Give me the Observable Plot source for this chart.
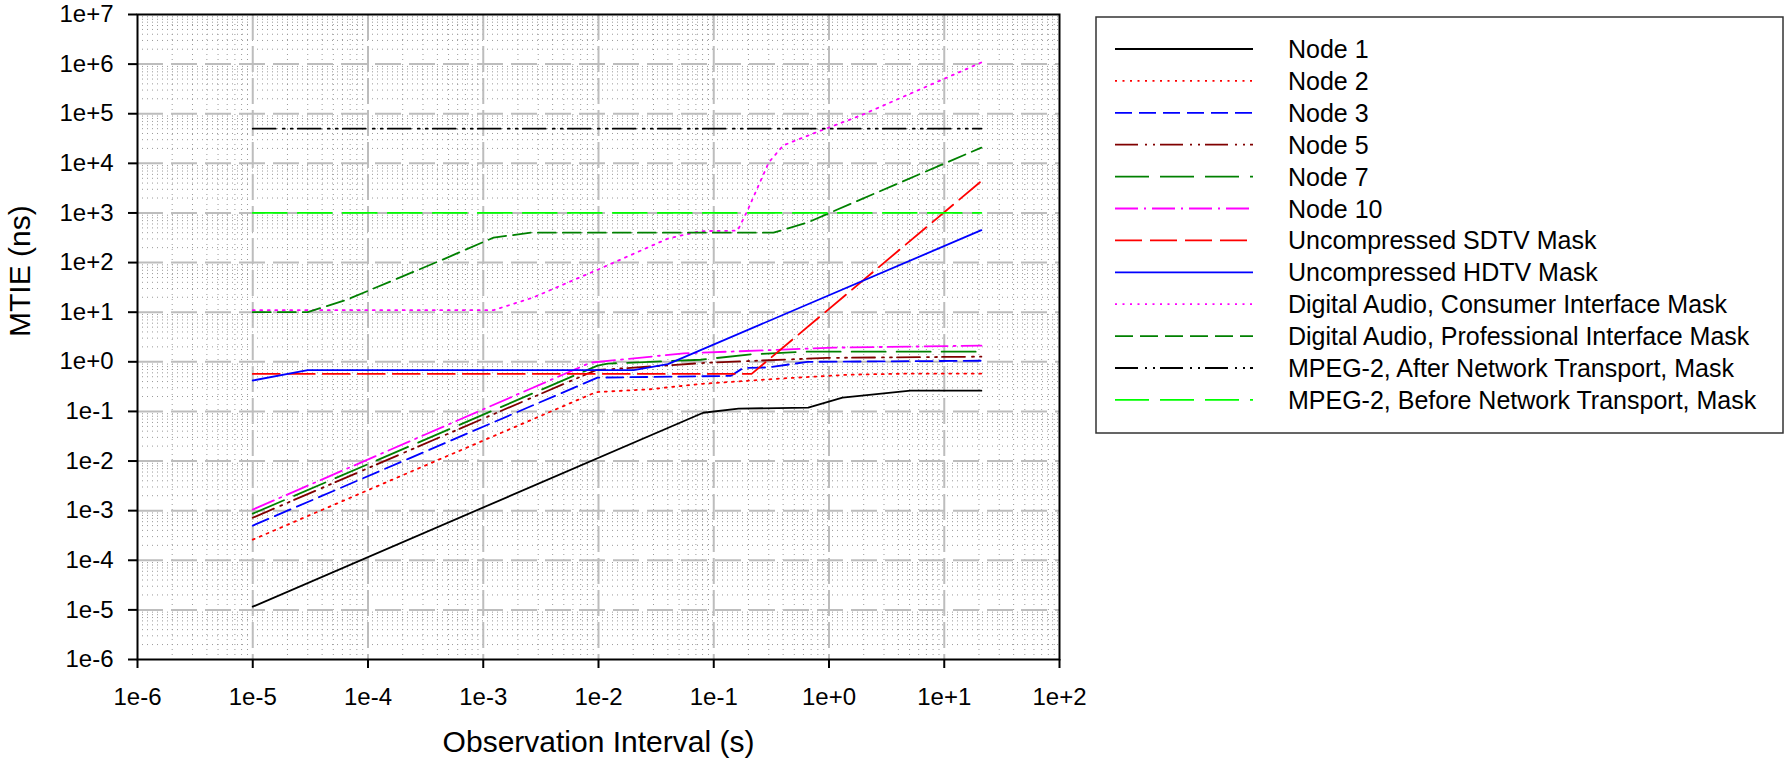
<!DOCTYPE html>
<html>
<head>
<meta charset="utf-8">
<script src="https://cdn.jsdelivr.net/npm/d3@7"></script>
<script src="https://cdn.jsdelivr.net/npm/@observablehq/plot@0.6"></script>
<style>
  html, body { margin: 0; padding: 0; background: #fff; }
  #wrap { position: relative; width: 1785px; height: 768px; overflow: hidden; font-family: 'Liberation Sans', Arial, sans-serif; }
  #chart { position: absolute; left: 0; top: 0; }
  #legend { position: absolute; left: 1095px; top: 16px; }
</style>
</head>
<body>
<div id="wrap"><div id="chart"></div><svg id="legend" width="690" height="420"></svg></div>
<script>
// ---- Axis ticks ----
const xTicks = [1e-6, 1e-5, 1e-4, 1e-3, 1e-2, 1e-1, 1e0, 1e1, 1e2];
const xTickLabels = ["1e-6", "1e-5", "1e-4", "1e-3", "1e-2", "1e-1", "1e+0", "1e+1", "1e+2"];
const yTicks = [1e-6, 1e-5, 1e-4, 1e-3, 1e-2, 1e-1, 1e0, 1e1, 1e2, 1e3, 1e4, 1e5, 1e6, 1e7];
const yTickLabels = ["1e-6", "1e-5", "1e-4", "1e-3", "1e-2", "1e-1", "1e+0", "1e+1", "1e+2", "1e+3", "1e+4", "1e+5", "1e+6", "1e+7"];

// ---- Series: [observation interval (s), MTIE (ns)] ----
const node1 = [[1e-5, 1.16e-5], [0.081, 0.094], [0.164, 0.114], [0.66, 0.119], [1.31, 0.19], [5.1, 0.262], [21, 0.262]];
const node2 = [[1e-5, 2.6e-4], [0.0095, 0.245], [0.028, 0.28], [0.08, 0.36], [0.38, 0.46], [1.5, 0.55], [5, 0.58], [21, 0.58]];
const node3 = [[1e-5, 5e-4], [0.0098, 0.48], [0.14, 0.52], [0.18, 0.75], [0.3, 0.77], [0.65, 1.0], [21, 1.05]];
const node5 = [[1e-5, 7.2e-4], [0.0095, 0.68], [0.088, 0.96], [0.97, 1.2], [21, 1.27]];
const node7 = [[1e-5, 8.7e-4], [0.0098, 0.84], [0.012, 0.92], [0.028, 1.0], [0.077, 1.1], [0.2, 1.4], [0.6, 1.6], [21, 1.6]];
const node10 = [[1e-5, 1.05e-3], [0.0085, 0.96], [0.055, 1.48], [1.1, 1.93], [21, 2.12]];
const sdtvMask = [[1e-5, 0.57], [0.213, 0.57], [21, 4400]];
const hdtvMask = [[1e-5, 0.42], [3e-5, 0.68], [0.0202, 0.68], [0.04, 0.9], [21, 450]];
const consumerMask = [[1e-5, 11], [1.23e-3, 11], [2.7e-3, 19.7], [0.0104, 76], [0.04, 305], [0.077, 430], [0.161, 440], [0.196, 1117], [0.3, 10400], [0.4, 22900], [0.73, 40000], [1.88, 92000], [5.86, 294000], [21, 1.08e6]];
const professionalMask = [[1e-5, 10], [3e-5, 10], [6.6e-5, 18], [4.26e-4, 110], [1.23e-3, 319], [2.6e-3, 400], [0.33, 400], [0.65, 640], [1.03, 1020], [21, 20800]];
const mpegAfterMask = [[1e-5, 5e4], [21, 5e4]];
const mpegBeforeMask = [[1e-5, 1000], [21, 1000]];

// ---- Legend names ----
const seriesNames = [
  "Node 1", "Node 2", "Node 3", "Node 5", "Node 7", "Node 10",
  "Uncompressed SDTV Mask", "Uncompressed HDTV Mask",
  "Digital Audio, Consumer Interface Mask", "Digital Audio, Professional Interface Mask",
  "MPEG-2, After Network Transport, Mask", "MPEG-2, Before Network Transport, Mask"
];
const seriesData = [node1, node2, node3, node5, node7, node10, sdtvMask, hdtvMask, consumerMask, professionalMask, mpegAfterMask, mpegBeforeMask];

// ---- Styles ----
const seriesColors = ["#000000", "#ff0000", "#0000ff", "#800000", "#008000", "#ff00ff", "#ff0000", "#0000ff", "#ff00ff", "#008000", "#000000", "#00ff00"];
const seriesDash = [
  null, [2, 5.5], [17, 7], [23, 7, 2, 6, 2, 5], [34, 11], [23, 6, 2, 6],
  [27, 8], null, [2, 5.5], [18, 7], [23, 7, 2, 6, 2, 5], [34, 11]
];

const minorOf = (ticks) => ticks.slice(0, -1).flatMap(d => [2, 3, 4, 5, 6, 7, 8, 9].map(k => d * k));
const xMinor = minorOf(xTicks);
const yMinor = minorOf(yTicks);

const lineMarks = seriesData.map((data, i) => Plot.line(data, {
  x: d => d[0], y: d => d[1],
  stroke: seriesColors[i], strokeWidth: 1.8,
  strokeDasharray: seriesDash[i] ? seriesDash[i].join(",") : null
}));

const chart = Plot.plot({
  width: 1090, height: 768,
  marginLeft: 137, marginRight: 31, marginTop: 14, marginBottom: 109,
  style: { fontFamily: "'Liberation Sans', Arial, sans-serif", background: "white", color: "black" },
  x: { type: "log", domain: [1e-6, 1e2] },
  y: { type: "log", domain: [1e-6, 1e7] },
  marks: [
    Plot.ruleX(xMinor, { stroke: "#9a9a9a", strokeWidth: 1, strokeDasharray: "1,4" }),
    Plot.ruleY(yMinor, { stroke: "#9a9a9a", strokeWidth: 1, strokeDasharray: "1,4" }),
    Plot.ruleX(xTicks.slice(1, -1), { stroke: "#bdbdbd", strokeWidth: 2, strokeDasharray: "26,6" }),
    Plot.ruleY(yTicks.slice(1, -1), { stroke: "#bdbdbd", strokeWidth: 2, strokeDasharray: "26,8" }),
    ...lineMarks,
    Plot.frame({ stroke: "black", strokeWidth: 2 }),
    Plot.axisX({ ticks: xTicks, tickSize: 9, tickPadding: 19, fontSize: 24, strokeWidth: 2,
      tickFormat: d => xTickLabels[xTicks.indexOf(d)], label: null }),
    Plot.axisY({ ticks: yTicks, tickSize: 9, tickPadding: 15, fontSize: 24, strokeWidth: 2,
      tickFormat: d => yTickLabels[yTicks.indexOf(d)], label: null }),
    Plot.text(["Observation Interval (s)"], { frameAnchor: "bottom", dy: 92, fontSize: 30, fill: "black" }),
    Plot.text(["MTIE (ns)"], { frameAnchor: "left", dx: -117, rotate: -90, fontSize: 30, fill: "black" })
  ]
});
document.getElementById("chart").appendChild(chart);

// ---- Legend ----
const legend = d3.select("#legend");
legend.append("rect")
  .attr("x", 1).attr("y", 1).attr("width", 687).attr("height", 416)
  .attr("fill", "white").attr("stroke", "#333").attr("stroke-width", 1.5);
const rows = legend.selectAll("g.row").data(seriesNames).join("g")
  .attr("class", "row")
  .attr("transform", (d, i) => `translate(0,${33 + i * 31.9})`);
rows.append("line")
  .attr("x1", 20).attr("x2", 158).attr("y1", 0).attr("y2", 0)
  .attr("stroke", (d, i) => seriesColors[i])
  .attr("stroke-width", 1.8)
  .attr("stroke-dasharray", (d, i) => seriesDash[i] ? seriesDash[i].join(",") : null);
rows.append("text")
  .attr("x", 193)
  .attr("dominant-baseline", "central")
  .attr("font-size", 25)
  .attr("font-family", "'Liberation Sans', Arial, sans-serif")
  .attr("fill", "#000")
  .text(d => d);
</script>
</body>
</html>
